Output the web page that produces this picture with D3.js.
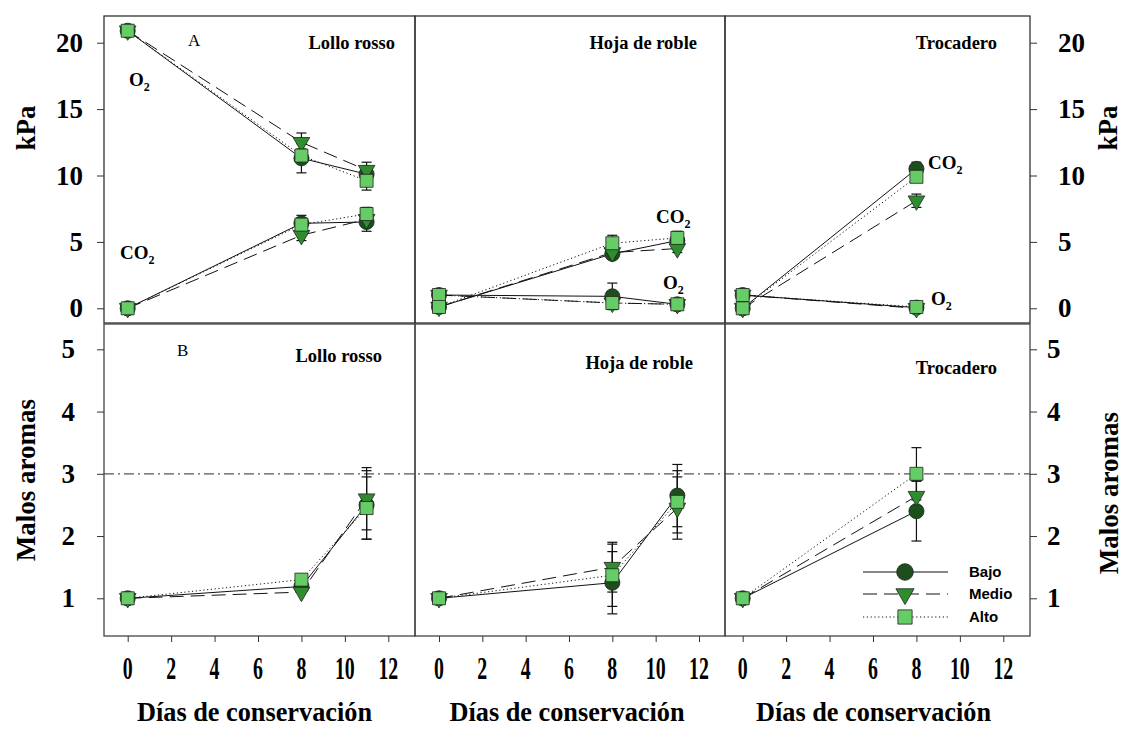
<!DOCTYPE html>
<html>
<head>
<meta charset="utf-8">
<script src="https://cdn.jsdelivr.net/npm/d3@7"></script>
<style>
body{margin:0;background:#fff}
svg{display:block}
</style>
</head>
<body>
<svg id="chart"></svg>
<script>
// data
var niveles=["Bajo","Medio","Alto"]
var variedades=["Lollo rosso","Hoja de roble","Trocadero"]
var dias=[[0,8,11],[0,8,11],[0,8]]
var xTicks=[0,2,4,6,8,10,12]
var kpaTicks=[0,5,10,15,20]
var aromaTicks=[1,2,3,4,5]
var limiteAroma=3

var o2Bajo=[[20.9,11.3,10.1],[1.0,0.9,0.3],[1.0,0.05]]
var o2Medio=[[20.9,12.5,10.4],[1.0,0.4,0.3],[1.0,0.0]]
var o2Alto=[[20.9,11.5,9.6],[1.0,0.4,0.3],[1.0,0.1]]
var o2ErrBajo=[[0,1.1,0.6],[0,1.0,0],[0,0]]
var o2ErrMedio=[[0,0.7,0.6],[0,0,0],[0,0]]
var o2ErrAlto=[[0,0.5,0.7],[0,0,0],[0,0]]

var co2Bajo=[[0,6.4,6.5],[0.1,4.1,5.1],[0,10.5]]
var co2Medio=[[0,5.5,6.7],[0.1,4.2,4.5],[0,8.1]]
var co2Alto=[[0,6.3,7.1],[0.1,4.9,5.3],[0,9.9]]
var co2ErrBajo=[[0,0.6,0.7],[0,0.3,0.3],[0,0.5]]
var co2ErrMedio=[[0,0.4,0.4],[0,0.3,0.3],[0,0.5]]
var co2ErrAlto=[[0,0.5,0.5],[0,0.6,0.5],[0,0.3]]

var aromaBajo=[[1,1.19,2.5],[1,1.25,2.65],[1,2.4]]
var aromaMedio=[[1,1.1,2.6],[1,1.5,2.45],[1,2.64]]
var aromaAlto=[[1,1.3,2.45],[1,1.37,2.55],[1,3.0]]
var aromaErrBajo=[[0,0,0.55],[0,0.5,0.5],[0,0.48]]
var aromaErrMedio=[[0,0,0.5],[0,0.4,0.5],[0,0.25]]
var aromaErrAlto=[[0,0,0.5],[0,0.5,0.5],[0,0.42]]

//layout
var screen={width:1132,height:729}
var panelX=[[104,415],[415,725],[725,1030]]
var zeroX=[127.7,439,742.7]
var twelveX=[388.3,699,1003.3]
var topPanel={top:16,bottom:323}
var botPanel={top:324,bottom:636}

var serif="'Liberation Serif','Times New Roman',serif"
var sans="'Liberation Sans',Arial,sans-serif"

var estilo={
  Bajo:{dash:null,fill:"#1c4f1c",sym:d3.symbolCircle,size:180,rot:0},
  Medio:{dash:"14,7",fill:"#2e8e2e",sym:d3.symbolTriangle,size:120,rot:180},
  Alto:{dash:"1.2,2.6",fill:"#66cc66",sym:d3.symbolSquare,size:169,rot:0}
}

var svg=d3.select("#chart")
  .attr("width",screen.width)
  .attr("height",screen.height)

var yKpa=d3.scaleLinear().domain([0,20]).range([308.3,42.7])
var yAroma=d3.scaleLinear().domain([1,5]).range([598.3,349.3])

var xScales=variedades.map(function(v,i){
  return d3.scaleLinear().domain([0,12]).range([zeroX[i],twelveX[i]])
})

// draw one series (line + error bars + markers)
var drawSeries=function(g,xs,ys,days,vals,errs,nivel,layer){
  var st=estilo[nivel]
  var pts=days.map(function(d,i){return {x:d,y:vals[i],e:errs[i]}})
  if(layer=="line"){
    var line=d3.line().x(function(p){return xs(p.x)}).y(function(p){return ys(p.y)})
    g.append("path").datum(pts)
      .attr("d",line)
      .attr("fill","none")
      .attr("stroke","#111")
      .attr("stroke-width",1)
      .attr("stroke-dasharray",st.dash)
  }
  if(layer=="err"){
    pts.filter(function(p){return p.e>0}).forEach(function(p){
      var cx=xs(p.x)
      g.append("line").attr("x1",cx).attr("x2",cx)
        .attr("y1",ys(p.y-p.e)).attr("y2",ys(p.y+p.e))
        .attr("stroke","#111").attr("stroke-width",1.2)
      ;[p.y-p.e,p.y+p.e].forEach(function(v){
        g.append("line").attr("x1",cx-5).attr("x2",cx+5)
          .attr("y1",ys(v)).attr("y2",ys(v))
          .attr("stroke","#111").attr("stroke-width",1.2)
      })
    })
  }
  if(layer=="mark"){
    g.selectAll(null).data(pts).enter()
      .append("path")
      .attr("d",d3.symbol().type(st.sym).size(st.size))
      .attr("transform",function(p){return "translate("+xs(p.x)+","+ys(p.y)+") rotate("+st.rot+")"})
      .attr("fill",st.fill)
      .attr("stroke","#222")
      .attr("stroke-width",0.8)
  }
}

var grupos={
  o2:{Bajo:[o2Bajo,o2ErrBajo],Medio:[o2Medio,o2ErrMedio],Alto:[o2Alto,o2ErrAlto]},
  co2:{Bajo:[co2Bajo,co2ErrBajo],Medio:[co2Medio,co2ErrMedio],Alto:[co2Alto,co2ErrAlto]},
  aroma:{Bajo:[aromaBajo,aromaErrBajo],Medio:[aromaMedio,aromaErrMedio],Alto:[aromaAlto,aromaErrAlto]}
}

// reference line for aromas
svg.append("line")
  .attr("x1",panelX[0][0]).attr("x2",panelX[2][1])
  .attr("y1",yAroma(limiteAroma)).attr("y2",yAroma(limiteAroma))
  .attr("stroke","#555").attr("stroke-width",1.2)
  .attr("stroke-dasharray","10,4,2,4")

variedades.forEach(function(v,i){
  var xs=xScales[i]
  var g=svg.append("g")
  ;["line","err","mark"].forEach(function(layer){
    niveles.forEach(function(n){
      drawSeries(g,xs,yKpa,dias[i],grupos.o2[n][0][i],grupos.o2[n][1][i],n,layer)
      drawSeries(g,xs,yKpa,dias[i],grupos.co2[n][0][i],grupos.co2[n][1][i],n,layer)
      drawSeries(g,xs,yAroma,dias[i],grupos.aroma[n][0][i],grupos.aroma[n][1][i],n,layer)
    })
  })

  // frames
  svg.append("rect").attr("x",panelX[i][0]).attr("y",topPanel.top)
    .attr("width",panelX[i][1]-panelX[i][0]).attr("height",topPanel.bottom-topPanel.top)
    .attr("fill","none").attr("stroke","#333").attr("stroke-width",1.3)
  svg.append("rect").attr("x",panelX[i][0]).attr("y",botPanel.top)
    .attr("width",panelX[i][1]-panelX[i][0]).attr("height",botPanel.bottom-botPanel.top)
    .attr("fill","none").attr("stroke","#444").attr("stroke-width",1.3)

  // x axis
  var xa=svg.append("g").attr("transform","translate(0,"+botPanel.bottom+")")
    .call(d3.axisBottom(xs).tickValues(xTicks).tickSize(6).tickFormat(""))
  xa.select(".domain").remove()
  xa.selectAll("line").attr("stroke","#333")
  svg.selectAll(null).data(xTicks).enter().append("text")
    .attr("transform",function(d){return "translate("+xs(d)+",679) scale(0.62,1)"})
    .attr("text-anchor","middle")
    .attr("font-family",serif).attr("font-weight","bold").attr("font-size",32)
    .text(function(d){return d})
  svg.append("text")
    .attr("x",(panelX[i][0]+panelX[i][1])/2+ (i==0?-5:(i==1?-3:-4))).attr("y",721)
    .attr("text-anchor","middle")
    .attr("font-family",serif).attr("font-weight","bold").attr("font-size",28)
    .attr("textLength",235).attr("lengthAdjust","spacingAndGlyphs")
    .text("Días de conservación")

  // panel titles
  svg.append("text").attr("x",[395,697,997][i]).attr("y",49)
    .attr("text-anchor","end").attr("font-family",serif).attr("font-weight","bold").attr("font-size",18.5)
    .text(v)
  svg.append("text").attr("x",[382,693,997][i]).attr("y",[362,369,374][i])
    .attr("text-anchor","end").attr("font-family",serif).attr("font-weight","bold").attr("font-size",18.5)
    .text(v)
})

// panel letters
svg.append("text").attr("x",188).attr("y",46).attr("font-family",serif).attr("font-size",17).text("A")
svg.append("text").attr("x",177).attr("y",356).attr("font-family",serif).attr("font-size",17).text("B")

// gas labels
var gasLabel=function(x,y,base){
  var t=svg.append("text").attr("x",x).attr("y",y)
    .attr("font-family",serif).attr("font-weight","bold").attr("font-size",19)
  t.append("tspan").text(base)
  t.append("tspan").attr("dy",5).attr("font-size",12).text("2")
}
gasLabel(129,86,"O")
gasLabel(120,259,"CO")
gasLabel(656,223,"CO")
gasLabel(663,289,"O")
gasLabel(928,169,"CO")
gasLabel(931,305,"O")

// y axes
var axisText=function(g){
  g.select(".domain").remove()
  g.selectAll("line").attr("stroke","#333")
  g.selectAll("text").attr("font-family",serif).attr("font-weight","bold").attr("font-size",27).attr("fill","#000")
}
var fmt=d3.format("d")
svg.append("g").attr("transform","translate("+panelX[0][0]+",0)")
  .call(d3.axisLeft(yKpa).tickValues(kpaTicks).tickFormat(fmt).tickSize(7).tickPadding(14)).call(axisText)
svg.append("g").attr("transform","translate("+panelX[0][0]+",0)")
  .call(d3.axisLeft(yAroma).tickValues(aromaTicks).tickFormat(fmt).tickSize(7).tickPadding(22)).call(axisText)
svg.append("g").attr("transform","translate("+panelX[2][1]+",0)")
  .call(d3.axisRight(yKpa).tickValues(kpaTicks).tickFormat(fmt).tickSize(7).tickPadding(21)).call(axisText)
svg.append("g").attr("transform","translate("+panelX[2][1]+",0)")
  .call(d3.axisRight(yAroma).tickValues(aromaTicks).tickFormat(fmt).tickSize(7).tickPadding(10)).call(axisText)

var yTitle=function(x,y,txt){
  svg.append("text").attr("transform","translate("+x+","+y+") rotate(-90)")
    .attr("text-anchor","middle").attr("font-family",serif).attr("font-weight","bold").attr("font-size",27)
    .text(txt)
}
yTitle(35,128,"kPa")
yTitle(35,480,"Malos aromas")
yTitle(1117,128,"kPa")
yTitle(1118,493,"Malos aromas")

// legend
var leg=svg.append("g")
niveles.forEach(function(n,i){
  var st=estilo[n]
  var y=[572,594,617][i]
  leg.append("line").attr("x1",863).attr("x2",948).attr("y1",y).attr("y2",y)
    .attr("stroke","#111").attr("stroke-width",1).attr("stroke-dasharray",st.dash)
  leg.append("path").attr("d",d3.symbol().type(st.sym).size(st.size*1.2))
    .attr("transform","translate(905,"+y+") rotate("+st.rot+")")
    .attr("fill",st.fill).attr("stroke","#222").attr("stroke-width",0.8)
  leg.append("text").attr("x",969).attr("y",y+5)
    .attr("font-family",sans).attr("font-weight","bold").attr("font-size",15)
    .text(n)
})
</script>
</body>
</html>
